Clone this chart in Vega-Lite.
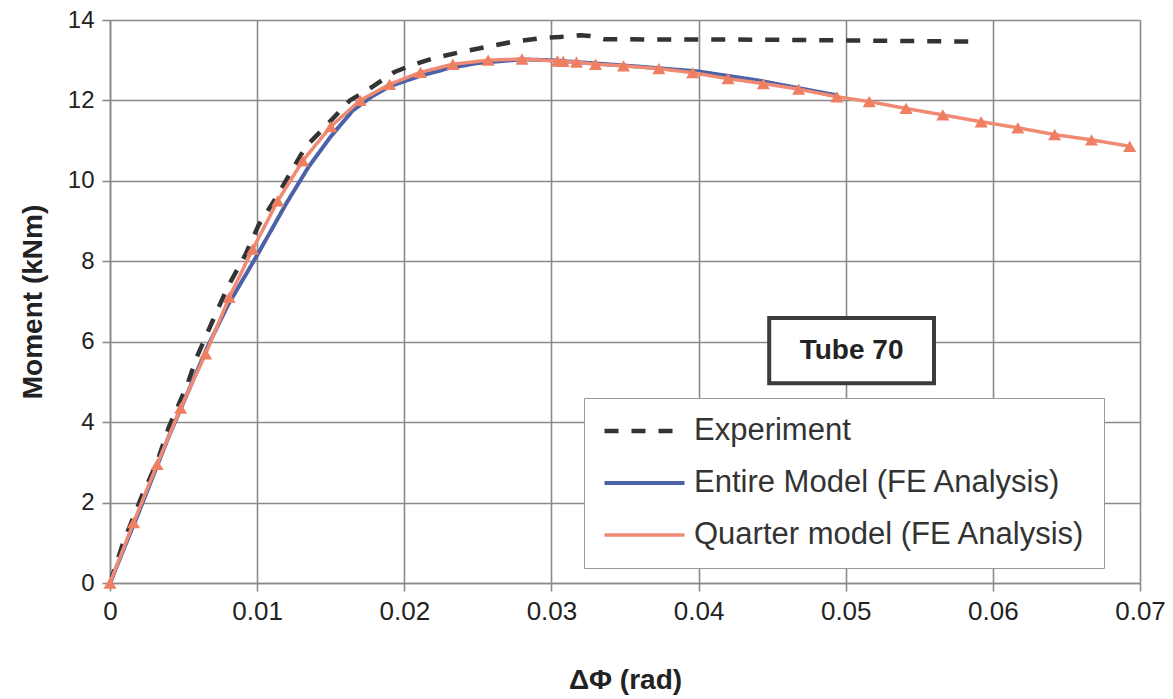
{
  "$schema": "https://vega.github.io/schema/vega-lite/v6.json",
  "width": 1030,
  "height": 563,
  "autosize": {"type": "none"},
  "padding": {"left": 110, "top": 20, "right": 33, "bottom": 116},
  "background": "white",
  "config": {
    "view": {"stroke": null},
    "font": "Liberation Sans",
    "axis": {
      "gridColor": "#8a8a8a", "gridWidth": 1.6, "gridOpacity": 1,
      "domainColor": "#8a8a8a", "domainWidth": 1.6,
      "tickColor": "#8a8a8a", "tickWidth": 1.6, "tickSize": 8,
      "labelFont": "Liberation Sans", "labelFontSize": 24, "labelColor": "#222",
      "titleFont": "Liberation Sans", "titleFontSize": 28, "titleFontWeight": "bold", "titleColor": "#222"
    }
  },
  "datasets": {
    "curves": [
      {"series": "Experiment", "x": 0, "y": 0},
      {"series": "Experiment", "x": 0.0009, "y": 1.0},
      {"series": "Experiment", "x": 0.0022, "y": 2.19},
      {"series": "Experiment", "x": 0.0032, "y": 3.0},
      {"series": "Experiment", "x": 0.004, "y": 3.88},
      {"series": "Experiment", "x": 0.0052, "y": 4.88},
      {"series": "Experiment", "x": 0.0059, "y": 5.62},
      {"series": "Experiment", "x": 0.007, "y": 6.54},
      {"series": "Experiment", "x": 0.008, "y": 7.36},
      {"series": "Experiment", "x": 0.0092, "y": 8.16},
      {"series": "Experiment", "x": 0.0101, "y": 8.9},
      {"series": "Experiment", "x": 0.0112, "y": 9.53},
      {"series": "Experiment", "x": 0.0123, "y": 10.22},
      {"series": "Experiment", "x": 0.0133, "y": 10.85},
      {"series": "Experiment", "x": 0.0145, "y": 11.3},
      {"series": "Experiment", "x": 0.0163, "y": 12.0},
      {"series": "Experiment", "x": 0.0175, "y": 12.26},
      {"series": "Experiment", "x": 0.0193, "y": 12.7},
      {"series": "Experiment", "x": 0.0206, "y": 12.89},
      {"series": "Experiment", "x": 0.022, "y": 13.05},
      {"series": "Experiment", "x": 0.0238, "y": 13.2},
      {"series": "Experiment", "x": 0.026, "y": 13.36},
      {"series": "Experiment", "x": 0.0274, "y": 13.46},
      {"series": "Experiment", "x": 0.0293, "y": 13.55},
      {"series": "Experiment", "x": 0.0306, "y": 13.58},
      {"series": "Experiment", "x": 0.032, "y": 13.62},
      {"series": "Experiment", "x": 0.0326, "y": 13.6},
      {"series": "Experiment", "x": 0.0336, "y": 13.52},
      {"series": "Experiment", "x": 0.045, "y": 13.51},
      {"series": "Experiment", "x": 0.059, "y": 13.46},
      {"series": "Entire Model (FE Analysis)", "x": 0, "y": 0},
      {"series": "Entire Model (FE Analysis)", "x": 0.002, "y": 1.8},
      {"series": "Entire Model (FE Analysis)", "x": 0.004, "y": 3.65},
      {"series": "Entire Model (FE Analysis)", "x": 0.0066, "y": 5.85},
      {"series": "Entire Model (FE Analysis)", "x": 0.008, "y": 6.9},
      {"series": "Entire Model (FE Analysis)", "x": 0.010, "y": 8.15},
      {"series": "Entire Model (FE Analysis)", "x": 0.012, "y": 9.45},
      {"series": "Entire Model (FE Analysis)", "x": 0.0135, "y": 10.35},
      {"series": "Entire Model (FE Analysis)", "x": 0.015, "y": 11.1},
      {"series": "Entire Model (FE Analysis)", "x": 0.0165, "y": 11.75},
      {"series": "Entire Model (FE Analysis)", "x": 0.0178, "y": 12.1},
      {"series": "Entire Model (FE Analysis)", "x": 0.019, "y": 12.35},
      {"series": "Entire Model (FE Analysis)", "x": 0.021, "y": 12.6},
      {"series": "Entire Model (FE Analysis)", "x": 0.023, "y": 12.8},
      {"series": "Entire Model (FE Analysis)", "x": 0.025, "y": 12.93},
      {"series": "Entire Model (FE Analysis)", "x": 0.028, "y": 13.02},
      {"series": "Entire Model (FE Analysis)", "x": 0.030, "y": 13.0},
      {"series": "Entire Model (FE Analysis)", "x": 0.033, "y": 12.92},
      {"series": "Entire Model (FE Analysis)", "x": 0.036, "y": 12.84},
      {"series": "Entire Model (FE Analysis)", "x": 0.040, "y": 12.72},
      {"series": "Entire Model (FE Analysis)", "x": 0.044, "y": 12.5},
      {"series": "Entire Model (FE Analysis)", "x": 0.0495, "y": 12.12},
      {"series": "Quarter model (FE Analysis)", "x": 0, "y": 0},
      {"series": "Quarter model (FE Analysis)", "x": 0.0016, "y": 1.5},
      {"series": "Quarter model (FE Analysis)", "x": 0.0032, "y": 2.95},
      {"series": "Quarter model (FE Analysis)", "x": 0.0048, "y": 4.35},
      {"series": "Quarter model (FE Analysis)", "x": 0.0065, "y": 5.7},
      {"series": "Quarter model (FE Analysis)", "x": 0.0081, "y": 7.1},
      {"series": "Quarter model (FE Analysis)", "x": 0.0097, "y": 8.3},
      {"series": "Quarter model (FE Analysis)", "x": 0.0114, "y": 9.5},
      {"series": "Quarter model (FE Analysis)", "x": 0.0131, "y": 10.5},
      {"series": "Quarter model (FE Analysis)", "x": 0.015, "y": 11.35},
      {"series": "Quarter model (FE Analysis)", "x": 0.017, "y": 12.0},
      {"series": "Quarter model (FE Analysis)", "x": 0.019, "y": 12.4},
      {"series": "Quarter model (FE Analysis)", "x": 0.0211, "y": 12.7},
      {"series": "Quarter model (FE Analysis)", "x": 0.0233, "y": 12.9},
      {"series": "Quarter model (FE Analysis)", "x": 0.0257, "y": 13.0},
      {"series": "Quarter model (FE Analysis)", "x": 0.028, "y": 13.03},
      {"series": "Quarter model (FE Analysis)", "x": 0.0304, "y": 12.98},
      {"series": "Quarter model (FE Analysis)", "x": 0.0308, "y": 12.97},
      {"series": "Quarter model (FE Analysis)", "x": 0.0317, "y": 12.95},
      {"series": "Quarter model (FE Analysis)", "x": 0.033, "y": 12.9},
      {"series": "Quarter model (FE Analysis)", "x": 0.0349, "y": 12.86},
      {"series": "Quarter model (FE Analysis)", "x": 0.0373, "y": 12.79},
      {"series": "Quarter model (FE Analysis)", "x": 0.0396, "y": 12.69},
      {"series": "Quarter model (FE Analysis)", "x": 0.042, "y": 12.54},
      {"series": "Quarter model (FE Analysis)", "x": 0.0444, "y": 12.42},
      {"series": "Quarter model (FE Analysis)", "x": 0.0468, "y": 12.28},
      {"series": "Quarter model (FE Analysis)", "x": 0.0494, "y": 12.09},
      {"series": "Quarter model (FE Analysis)", "x": 0.0516, "y": 11.97},
      {"series": "Quarter model (FE Analysis)", "x": 0.0541, "y": 11.8},
      {"series": "Quarter model (FE Analysis)", "x": 0.0566, "y": 11.64},
      {"series": "Quarter model (FE Analysis)", "x": 0.0592, "y": 11.47},
      {"series": "Quarter model (FE Analysis)", "x": 0.0617, "y": 11.32},
      {"series": "Quarter model (FE Analysis)", "x": 0.0642, "y": 11.15},
      {"series": "Quarter model (FE Analysis)", "x": 0.0667, "y": 11.02},
      {"series": "Quarter model (FE Analysis)", "x": 0.0693, "y": 10.86}
    ],
    "note": [{"label": "Tube 70"}]
  },
  "layer": [
    {
      "data": {"name": "curves"},
      "mark": {"type": "line", "clip": true},
      "encoding": {
        "x": {"field": "x", "type": "quantitative",
          "scale": {"domain": [0, 0.07], "nice": false},
          "axis": {"values": [0, 0.01, 0.02, 0.03, 0.04, 0.05, 0.06, 0.07], "format": "~g", "title": "ΔΦ (rad)", "titlePadding": 42, "labelPadding": 7, "labelFlush": false, "labelFontSize": 26}},
        "y": {"field": "y", "type": "quantitative",
          "scale": {"domain": [0, 14], "nice": false},
          "axis": {"values": [0, 2, 4, 6, 8, 10, 12, 14], "title": "Moment (kNm)", "titlePadding": 20, "labelPadding": 8, "labelFlush": false}},
        "color": {"field": "series", "type": "nominal",
          "scale": {"domain": ["Experiment", "Entire Model (FE Analysis)", "Quarter model (FE Analysis)"],
                    "range": ["#333333", "#4c62a8", "#f08a72"]},
          "legend": {"title": null, "orient": "none", "legendX": 474, "legendY": 378,
            "symbolType": "stroke", "symbolSize": 6400, "symbolStrokeWidth": 4,
            "labelFontSize": 31, "labelFont": "Liberation Sans", "labelColor": "#333", "labelLimit": 0,
            "clipHeight": 30, "rowPadding": 21, "labelOffset": 7,
            "fillColor": "white", "strokeColor": "#999", "padding": 18}},
        "strokeDash": {"field": "series", "type": "nominal",
          "scale": {"domain": ["Experiment", "Entire Model (FE Analysis)", "Quarter model (FE Analysis)"],
                    "range": [[14, 13], [1, 0], [1, 0]]},
          "legend": {"title": null}},
        "strokeWidth": {"field": "series", "type": "nominal",
          "scale": {"domain": ["Experiment", "Entire Model (FE Analysis)", "Quarter model (FE Analysis)"],
                    "range": [4.5, 3.5, 2]},
          "legend": null}
      }
    },
    {
      "data": {"name": "curves"},
      "transform": [{"filter": "datum.series === 'Quarter model (FE Analysis)'"}],
      "mark": {"type": "point", "shape": "triangle-up", "filled": true, "size": 170, "color": "#ef7f62", "opacity": 1},
      "encoding": {
        "x": {"field": "x", "type": "quantitative"},
        "y": {"field": "y", "type": "quantitative"}
      }
    },
    {
      "data": {"name": "note"},
      "mark": {"type": "rect", "fill": "white", "stroke": "#3c3c3c", "strokeWidth": 4},
      "encoding": {
        "x": {"datum": 0.0448}, "x2": {"datum": 0.0560},
        "y": {"datum": 4.97}, "y2": {"datum": 6.59}
      }
    },
    {
      "data": {"name": "note"},
      "mark": {"type": "text", "fontSize": 28, "fontWeight": "bold", "font": "Liberation Sans", "color": "#222", "align": "center", "baseline": "middle"},
      "encoding": {
        "text": {"field": "label"},
        "x": {"datum": 0.0504}, "y": {"datum": 5.78}
      }
    }
  ]
}
